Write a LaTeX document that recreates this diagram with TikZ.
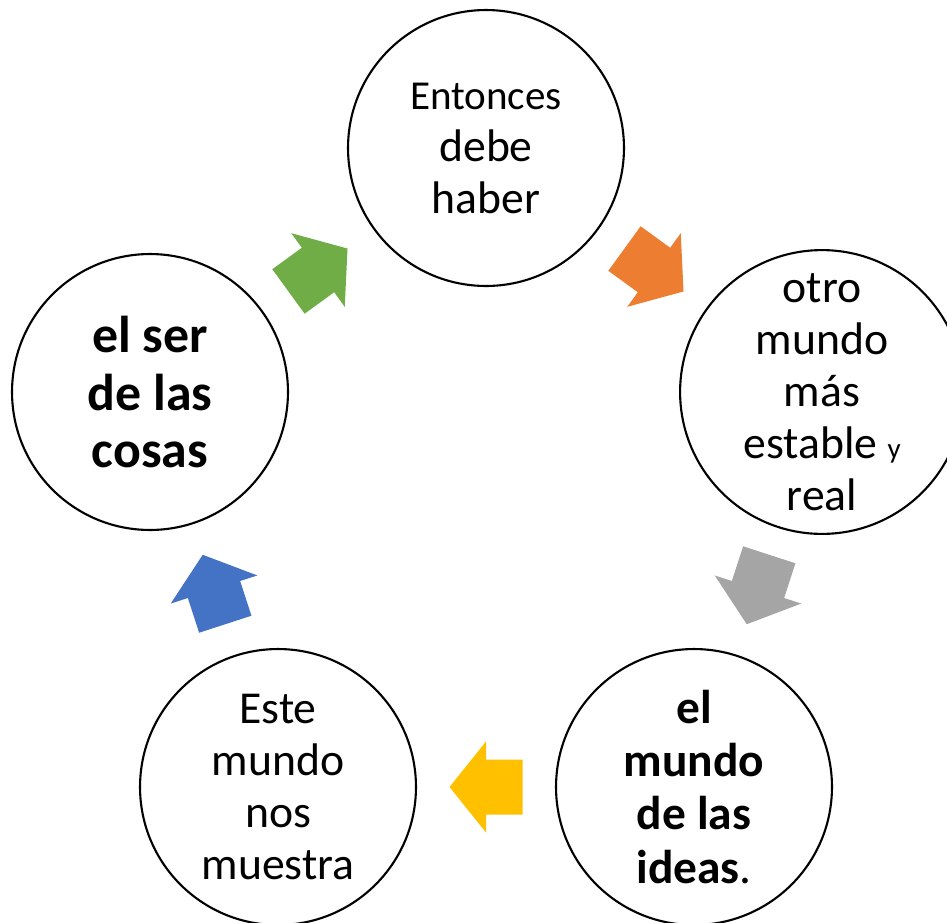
\documentclass[tikz,border=0pt]{standalone}
\usepackage{fontspec}
\setmainfont{Carlito}
\usetikzlibrary{calc}
\definecolor{argreen}{HTML}{70AD47}
\definecolor{arorange}{HTML}{ED7D31}
\definecolor{argray}{HTML}{A5A5A5}
\definecolor{aryellow}{HTML}{FFC000}
\definecolor{arblue}{HTML}{4472C4}

\begin{document}
\begin{tikzpicture}[x=0.02cm,y=-0.02cm,
idea/.style={draw=black,line width=1.2pt,circle,minimum size=5.52cm,inner sep=0pt,
  align=center,font=\fontsize{26}{29.6}\selectfont},
strong/.style={idea,font=\bfseries\fontsize{29.5}{33}\selectfont},
turn/.pic={\fill (-36.5,-27.5) -- (0,-27.5) -- (0,-45.5) -- (36.5,0)
  -- (0,45.5) -- (0,27.5) -- (-36.5,27.5) -- cycle;}]
\useasboundingbox (0,0) rectangle (947,923);
\node[idea] (top) at (486,148) {{\fontsize{23.4}{28.5}\selectfont Entonces}\\debe\\haber};
\node[idea] (right) at (822,392) {otro\\mundo\\más\\estable {\fontsize{16.5}{20}\selectfont y}\\real};
\node[strong,font=\fontsize{27}{30.2}\selectfont] (ideas) at (694,787)
  {\textbf{el}\\\textbf{mundo}\\\textbf{de las}\\\textbf{ideas}.};
\node[idea] (este) at (278,787) {Este\\mundo\\nos\\muestra};
\node[strong] (left) at (150,392) {el ser\\de las\\cosas};
% flechas del ciclo
\pic[argreen,rotate=36] at ($(left)!0.5!(top)$) {turn};
\pic[arorange,rotate=-36] at ($(top)!0.5!(right)$) {turn};
\pic[argray,rotate=-108] at ($(right)!0.5!(ideas)$) {turn};
\pic[aryellow,rotate=180] at ($(ideas)!0.5!(este)$) {turn};
\pic[arblue,rotate=108] at ($(este)!0.5!(left)$) {turn};
\end{tikzpicture}
\end{document}
